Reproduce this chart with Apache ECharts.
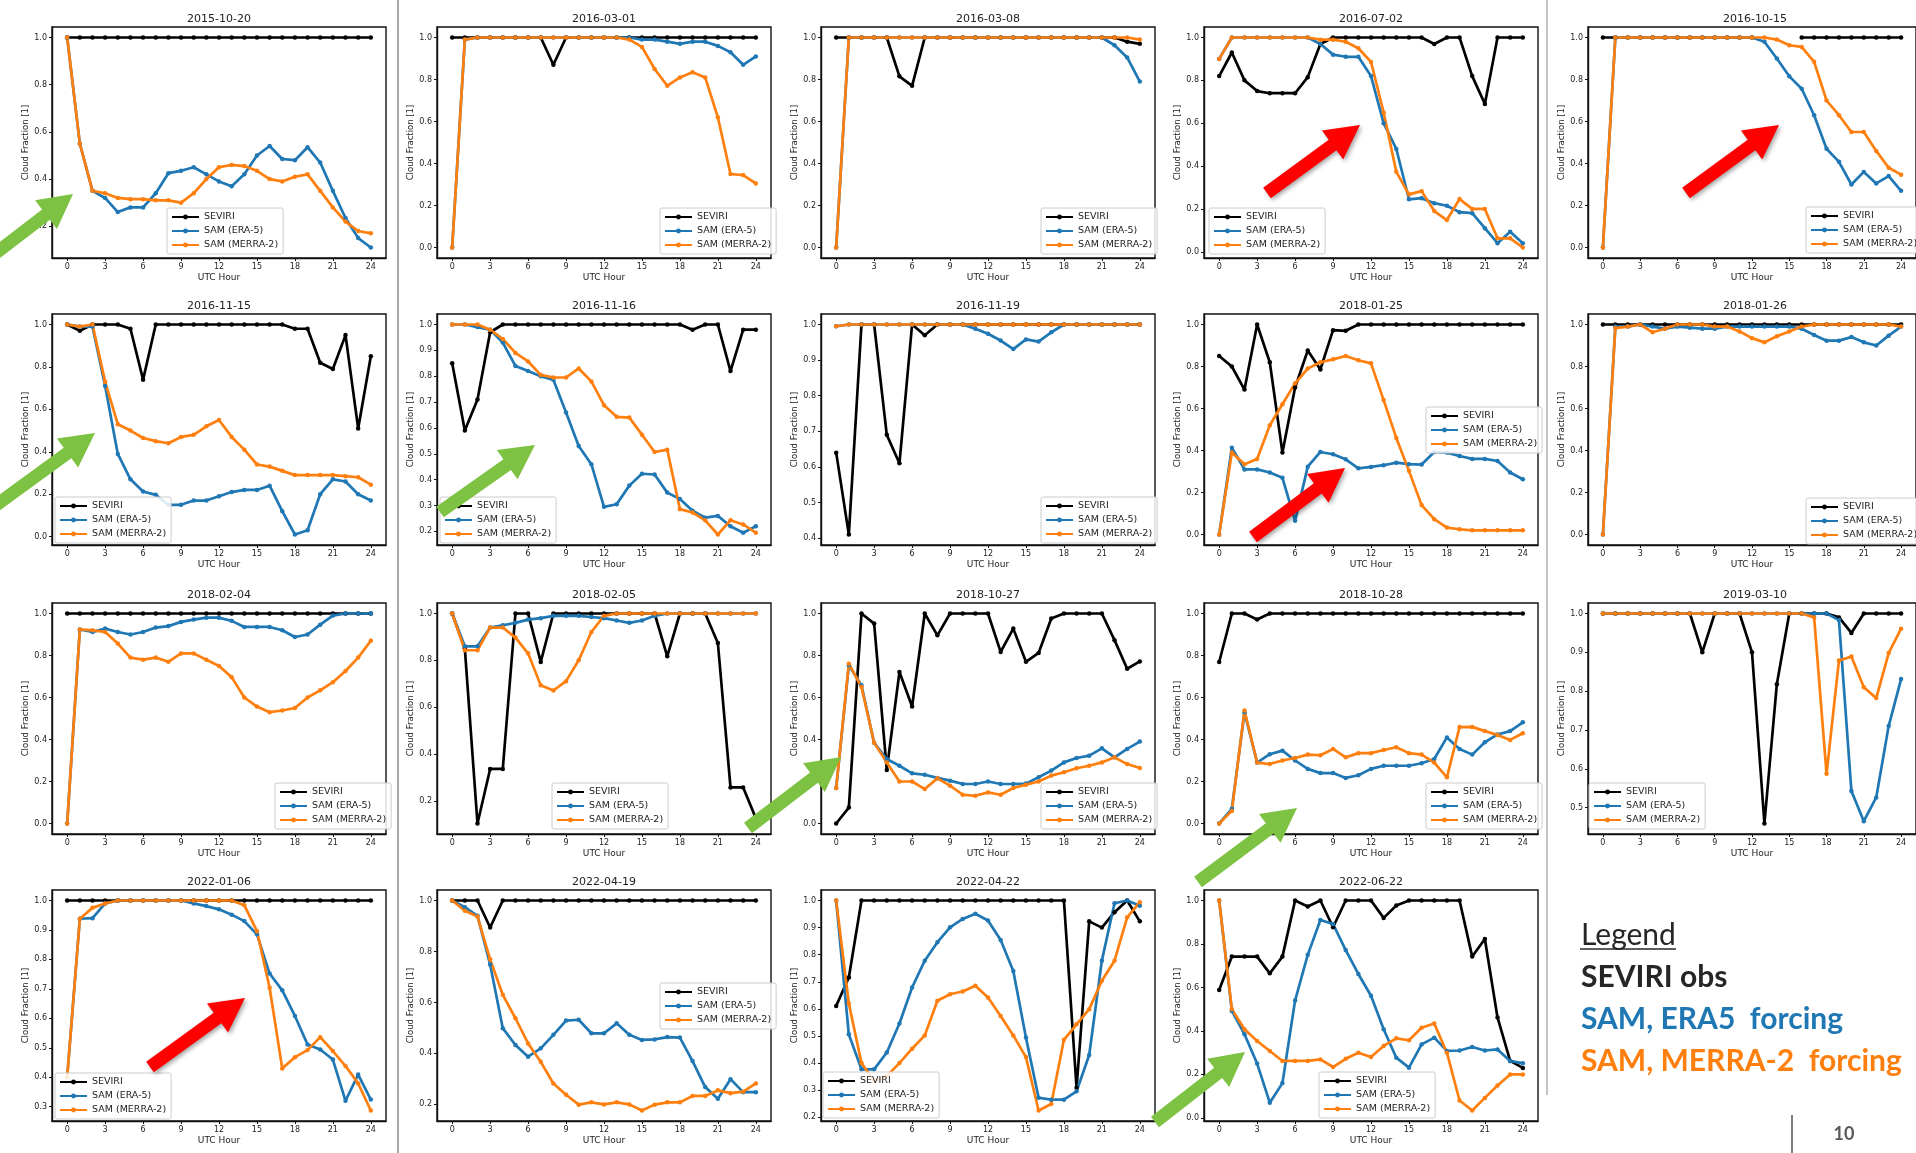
<!DOCTYPE html>
<html>
<head>
  <meta charset="utf-8">
  <title>Cloud fraction cases</title>
  <script src="https://cdn.jsdelivr.net/npm/echarts@6/dist/echarts.min.js"></script>
  <style>
    html, body { margin: 0; padding: 0; background: #fff; }
    #chart { width: 1916px; height: 1153px; }
  </style>
</head>
<body>
<div id="chart"></div>
<script>
// ---- data ----
var hours = [0,1,2,3,4,5,6,7,8,9,10,11,12,13,14,15,16,17,18,19,20,21,22,23,24];
var hourTicks = [0,3,6,9,12,15,18,21,24];
var dates = ['2015-10-20','2016-03-01','2016-03-08','2016-07-02','2016-10-15',
             '2016-11-15','2016-11-16','2016-11-19','2018-01-25','2018-01-26',
             '2018-02-04','2018-02-05','2018-10-27','2018-10-28','2019-03-10',
             '2022-01-06','2022-04-19','2022-04-22','2022-06-22'];
var seriesNames = ['SEVIRI','SAM (ERA-5)','SAM (MERRA-2)'];

var ticksFifth = [0.0,0.2,0.4,0.6,0.8,1.0];
var ticksFifthFrom2 = [0.2,0.4,0.6,0.8,1.0];
var ticksTenthFrom2 = [0.2,0.3,0.4,0.5,0.6,0.7,0.8,0.9,1.0];
var ticksTenthFrom3 = [0.3,0.4,0.5,0.6,0.7,0.8,0.9,1.0];
var ticksTenthFrom4 = [0.4,0.5,0.6,0.7,0.8,0.9,1.0];
var ticksTenthFrom5 = [0.5,0.6,0.7,0.8,0.9,1.0];

var ones = [1,1,1,1,1,1,1,1,1,1,1,1,1,1,1,1,1,1,1,1,1,1,1,1,1];

// 2015-10-20
var sev01 = ones;
var era01 = [1.0,0.55,0.35,0.32,0.26,0.28,0.28,0.34,0.425,0.435,0.45,0.42,0.39,0.37,0.42,0.50,0.54,0.485,0.48,0.535,0.47,0.35,0.235,0.15,0.11];
var mer01 = [1.0,0.55,0.35,0.34,0.32,0.315,0.315,0.31,0.31,0.30,0.34,0.40,0.45,0.46,0.455,0.435,0.40,0.39,0.41,0.42,0.35,0.28,0.22,0.18,0.17];
// 2016-03-01
var sev02 = [1,1,1,1,1,1,1,1,0.87,1,1,1,1,1,1,1,1,1,1,1,1,1,1,1,1];
var era02 = [0.0,0.99,1,1,1,1,1,1,1,1,1,1,1,1,1,0.99,0.99,0.98,0.97,0.98,0.98,0.96,0.93,0.87,0.91];
var mer02 = [0.0,0.99,1,1,1,1,1,1,1,1,1,1,1,1,0.99,0.955,0.85,0.77,0.81,0.835,0.81,0.62,0.35,0.345,0.305];
// 2016-03-08
var sev03 = [1,1,1,1,1,0.815,0.77,1,1,1,1,1,1,1,1,1,1,1,1,1,1,1,1,0.98,0.97];
var era03 = [0,1,1,1,1,1,1,1,1,1,1,1,1,1,1,1,1,1,1,1,1,1,0.963,0.905,0.79];
var mer03 = [0,1,1,1,1,1,1,1,1,1,1,1,1,1,1,1,1,1,1,1,1,1,1,1,0.99];
// 2016-07-02
var sev04 = [0.82,0.93,0.80,0.75,0.74,0.74,0.74,0.815,0.97,1,1,1,1,1,1,1,1,0.97,1,1,0.82,0.69,1,1,1];
var era04 = [0.9,1,1,1,1,1,1,1,0.97,0.92,0.91,0.91,0.82,0.60,0.48,0.245,0.25,0.227,0.215,0.185,0.18,0.11,0.04,0.094,0.04];
var mer04 = [0.9,1,1,1,1,1,1,1,0.99,0.99,0.98,0.95,0.886,0.65,0.373,0.268,0.283,0.19,0.148,0.246,0.20,0.20,0.063,0.063,0.02];
// 2016-10-15
var sev05 = [1,1,1,1,1,1,1,1,1,1,1,1,1,null,null,null,1,1,1,1,1,1,1,1,1];
var era05 = [0,1,1,1,1,1,1,1,1,1,1,1,1,0.98,0.9,0.815,0.756,0.63,0.47,0.408,0.30,0.36,0.305,0.34,0.27];
var mer05 = [0,1,1,1,1,1,1,1,1,1,1,1,1,1,0.99,0.963,0.955,0.884,0.70,0.63,0.55,0.55,0.46,0.38,0.347];
// 2016-11-15
var sev06 = [1,0.97,1,1,1,0.98,0.74,1,1,1,1,1,1,1,1,1,1,1,0.98,0.98,0.82,0.79,0.95,0.51,0.85];
var era06 = [1,0.99,0.99,0.71,0.39,0.27,0.213,0.197,0.15,0.15,0.17,0.17,0.19,0.21,0.22,0.22,0.24,0.12,0.01,0.03,0.20,0.27,0.26,0.20,0.17];
var mer06 = [1,0.99,1,0.73,0.53,0.50,0.465,0.45,0.44,0.47,0.48,0.52,0.55,0.47,0.41,0.34,0.33,0.31,0.29,0.29,0.29,0.29,0.285,0.28,0.245];
// 2016-11-16
var sev07 = [0.85,0.59,0.71,0.97,1,1,1,1,1,1,1,1,1,1,1,1,1,1,1,0.98,1,1,0.82,0.98,0.98];
var era07 = [1,1,0.99,0.98,0.93,0.84,0.82,0.80,0.786,0.66,0.53,0.46,0.295,0.305,0.377,0.423,0.42,0.35,0.325,0.28,0.253,0.26,0.22,0.195,0.22];
var mer07 = [1,1,1,0.98,0.944,0.89,0.857,0.805,0.795,0.795,0.83,0.78,0.688,0.643,0.64,0.574,0.507,0.516,0.286,0.273,0.243,0.188,0.243,0.227,0.195];
// 2016-11-19
var sev08 = [0.64,0.41,1,1,0.69,0.61,1,0.97,1,1,1,1,1,1,1,1,1,1,1,1,1,1,1,1,1];
var era08 = [0.995,1,1,1,1,1,1,1,1,1,1,0.988,0.974,0.955,0.931,0.958,0.952,0.978,1,1,1,1,1,1,1];
var mer08 = [0.995,1,1,1,1,1,1,1,1,1,1,1,1,1,1,1,1,1,1,1,1,1,1,1,1];
// 2018-01-25
var sev09 = [0.85,0.80,0.69,1.0,0.82,0.39,0.70,0.876,0.786,0.973,0.97,1,1,1,1,1,1,1,1,1,1,1,1,1,1];
var era09 = [0,0.413,0.31,0.31,0.295,0.27,0.065,0.323,0.393,0.382,0.358,0.315,0.322,0.33,0.342,0.335,0.333,0.393,0.39,0.374,0.36,0.36,0.35,0.295,0.263];
var mer09 = [0,0.39,0.334,0.36,0.52,0.62,0.72,0.79,0.82,0.834,0.85,0.83,0.815,0.64,0.46,0.303,0.14,0.073,0.033,0.025,0.02,0.02,0.02,0.02,0.02];
// 2018-01-26
var sev10 = ones;
var era10 = [0,0.99,0.99,1,0.99,0.98,0.99,0.985,0.98,0.98,0.99,0.99,0.99,0.99,0.99,0.99,0.98,0.95,0.923,0.923,0.94,0.915,0.90,0.947,0.99];
var mer10 = [0,0.983,0.99,1,0.963,0.98,1,1,1,0.99,0.99,0.967,0.935,0.915,0.944,0.967,0.99,1,1,1,1,1,1,1,0.99];
// 2018-02-04
var sev11 = ones;
var era11 = [0,0.924,0.912,0.928,0.912,0.90,0.912,0.933,0.94,0.96,0.971,0.98,0.98,0.965,0.936,0.936,0.936,0.92,0.888,0.90,0.947,0.99,1,1,1];
var mer11 = [0,0.924,0.92,0.912,0.857,0.79,0.78,0.79,0.77,0.81,0.81,0.78,0.75,0.697,0.60,0.557,0.53,0.538,0.55,0.60,0.634,0.673,0.726,0.79,0.87];
// 2018-02-05
var sev12 = [1,0.85,0.103,0.336,0.336,1,1,0.793,1,1,1,1,1,1,1,1,1,0.817,1,1,1,0.874,0.257,0.257,0.126];
var era12 = [1,0.86,0.86,0.94,0.95,0.96,0.974,0.98,0.99,0.99,0.99,0.985,0.98,0.97,0.96,0.97,0.99,1,1,1,1,1,1,1,1];
var mer12 = [1,0.843,0.843,0.94,0.94,0.897,0.83,0.693,0.671,0.711,0.80,0.921,0.99,1,1,1,1,1,1,1,1,1,1,1,1];
// 2018-10-27
var sev13 = [0,0.076,1,0.952,0.255,0.721,0.557,1,0.896,1,1,1,1,0.817,0.928,0.77,0.812,0.976,1,1,1,1,0.873,0.737,0.772];
var era13 = [0.169,0.753,0.658,0.384,0.307,0.275,0.239,0.232,0.217,0.204,0.188,0.188,0.20,0.188,0.188,0.19,0.22,0.252,0.291,0.312,0.323,0.358,0.315,0.355,0.39];
var mer13 = [0.169,0.761,0.65,0.384,0.291,0.20,0.20,0.164,0.215,0.18,0.137,0.132,0.148,0.137,0.169,0.185,0.20,0.228,0.244,0.263,0.275,0.291,0.315,0.283,0.264];
// 2018-10-28
var sev14 = [0.769,1,1,0.971,1,1,1,1,1,1,1,1,1,1,1,1,1,1,1,1,1,1,1,1,1];
var era14 = [0,0.07,0.53,0.29,0.33,0.347,0.30,0.26,0.24,0.24,0.217,0.23,0.26,0.275,0.275,0.275,0.287,0.307,0.41,0.355,0.328,0.387,0.424,0.44,0.482];
var mer14 = [0,0.06,0.538,0.29,0.283,0.30,0.312,0.328,0.325,0.355,0.315,0.335,0.335,0.35,0.363,0.335,0.328,0.29,0.22,0.459,0.46,0.44,0.422,0.398,0.43];
// 2019-03-10
var sev15 = [1,1,1,1,1,1,1,1,0.9,1,1,1,0.9,0.459,0.818,1,1,1,1,0.99,0.95,1,1,1,1];
var era15 = [1,1,1,1,1,1,1,1,1,1,1,1,1,1,1,1,1,1,1,0.983,0.543,0.465,0.526,0.71,0.831];
var mer15 = [1,1,1,1,1,1,1,1,1,1,1,1,1,1,1,1,1,0.99,0.587,0.879,0.889,0.81,0.782,0.898,0.961];
// 2022-01-06
var sev16 = ones;
var era16 = [0.40,0.938,0.94,0.99,1,1,1,1,1,1,0.99,0.981,0.97,0.952,0.93,0.885,0.752,0.695,0.608,0.511,0.494,0.46,0.32,0.409,0.324];
var mer16 = [0.40,0.938,0.975,0.99,1,1,1,1,1,1,1,1,1,1,0.984,0.896,0.704,0.43,0.468,0.492,0.536,0.489,0.438,0.379,0.287];
// 2022-04-19
var sev17 = [1,1,1,0.894,1,1,1,1,1,1,1,1,1,1,1,1,1,1,1,1,1,1,1,1,1];
var era17 = [1,0.974,0.94,0.749,0.499,0.433,0.387,0.42,0.473,0.529,0.532,0.479,0.479,0.518,0.473,0.453,0.455,0.464,0.462,0.37,0.268,0.222,0.299,0.248,0.248];
var mer17 = [1,0.96,0.937,0.769,0.63,0.538,0.439,0.367,0.282,0.238,0.199,0.208,0.20,0.208,0.20,0.176,0.199,0.208,0.208,0.233,0.233,0.255,0.244,0.25,0.282];
// 2022-04-22
var sev18 = [0.611,0.716,1,1,1,1,1,1,1,1,1,1,1,1,1,1,1,1,1,0.309,0.923,0.90,0.957,1,0.923];
var era18 = [1,0.506,0.377,0.377,0.439,0.546,0.679,0.778,0.846,0.901,0.932,0.951,0.926,0.854,0.74,0.494,0.272,0.265,0.265,0.296,0.43,0.778,0.99,1,0.981];
var mer18 = [1,0.62,0.40,0.333,0.352,0.40,0.453,0.502,0.63,0.654,0.664,0.685,0.642,0.574,0.502,0.422,0.225,0.249,0.486,0.543,0.599,0.704,0.778,0.938,0.994];
// 2022-06-22
var sev19 = [0.588,0.742,0.742,0.742,0.665,0.742,1,0.972,1,0.877,1,1,1,0.92,0.977,1,1,1,1,1,0.742,0.823,0.462,0.262,0.23];
var era19 = [1,0.492,0.385,0.25,0.07,0.16,0.54,0.75,0.91,0.892,0.772,0.662,0.562,0.408,0.277,0.231,0.338,0.369,0.308,0.31,0.326,0.31,0.315,0.262,0.251];
var mer19 = [1,0.50,0.408,0.354,0.308,0.262,0.262,0.262,0.269,0.234,0.272,0.30,0.28,0.331,0.366,0.357,0.415,0.434,0.30,0.08,0.034,0.092,0.149,0.20,0.20];

// ---- layout ----
var colX = [52, 437, 821, 1204, 1588];
var rowY = [27, 314, 603, 890];
var boxW = 334, boxH = 231;
var panelCol = [0,1,2,3,4, 0,1,2,3,4, 0,1,2,3,4, 0,1,2,3];
var panelRow = [0,0,0,0,0, 1,1,1,1,1, 2,2,2,2,2, 3,3,3,3];
var legendPos = [[167,208],[660,208],[1041,208],[1209,208],[1806,207],
                 [55,497],[440,497],[1041,497],[1426,407],[1806,498],
                 [275,783],[552,783],[1041,783],[1426,783],[1589,783],
                 [55,1073],[660,983],[823,1072],[1319,1072]];
var colors = ['#000000', '#1f77b4', '#ff7f0e'];

var panels = [
  [sev01, era01, mer01, ticksFifthFrom2],
  [sev02, era02, mer02, ticksFifth],
  [sev03, era03, mer03, ticksFifth],
  [sev04, era04, mer04, ticksFifth],
  [sev05, era05, mer05, ticksFifth],
  [sev06, era06, mer06, ticksFifth],
  [sev07, era07, mer07, ticksTenthFrom2],
  [sev08, era08, mer08, ticksTenthFrom4],
  [sev09, era09, mer09, ticksFifth],
  [sev10, era10, mer10, ticksFifth],
  [sev11, era11, mer11, ticksFifth],
  [sev12, era12, mer12, ticksFifthFrom2],
  [sev13, era13, mer13, ticksFifth],
  [sev14, era14, mer14, ticksFifth],
  [sev15, era15, mer15, ticksTenthFrom5],
  [sev16, era16, mer16, ticksTenthFrom3],
  [sev17, era17, mer17, ticksFifthFrom2],
  [sev18, era18, mer18, ticksTenthFrom2],
  [sev19, era19, mer19, ticksFifth]
];

var txt = '#222';
var option = {
  backgroundColor: '#fff',
  animation: false,
  textStyle: { fontFamily: 'DejaVu Sans' },
  grid: [], xAxis: [], yAxis: [], series: [], legend: [], graphic: []
};

panels.forEach(function (p, i) {
  var left = colX[panelCol[i]], top = rowY[panelRow[i]];
  option.grid.push({
    left: left, top: top, width: boxW, height: boxH,
    show: true, borderColor: '#111', borderWidth: 1.4, backgroundColor: '#fff'
  });

  // matplotlib style limits: data range plus 5% margins
  var all = p[0].concat(p[1], p[2]).filter(function (v) { return v != null; });
  var lo = Math.min.apply(null, all), hi = Math.max.apply(null, all);
  var pad = (hi - lo) * 0.05;

  option.xAxis.push({
    gridIndex: i, type: 'value', min: -1.2, max: 25.2,
    axisLine: { show: true, onZero: false, lineStyle: { color: '#111', width: 1.4 } },
    axisTick: { show: true, customValues: hourTicks, length: 3, lineStyle: { color: '#111' } },
    axisLabel: { customValues: hourTicks, fontSize: 8, color: txt, margin: 5 },
    splitLine: { show: false },
    name: 'UTC Hour', nameLocation: 'middle', nameGap: 15,
    nameTextStyle: { fontSize: 9, color: txt }
  });
  option.yAxis.push({
    gridIndex: i, type: 'value', min: lo - pad, max: hi + pad,
    axisLine: { show: true, onZero: false, lineStyle: { color: '#111', width: 1.4 } },
    axisTick: { show: true, customValues: p[3], length: 3, lineStyle: { color: '#111' } },
    axisLabel: { customValues: p[3], fontSize: 8, color: txt, margin: 5,
                 formatter: function (v) { return v.toFixed(1); } },
    splitLine: { show: false },
    name: 'Cloud Fraction [1]', nameLocation: 'middle', nameGap: 22,
    nameTextStyle: { fontSize: 8.5, color: txt }
  });

  for (var k = 0; k < 3; k++) {
    option.series.push({
      type: 'line', name: seriesNames[k], xAxisIndex: i, yAxisIndex: i,
      data: hours.map(function (h, j) { var v = p[k][j]; return [h, v == null ? '-' : v]; }),
      symbol: 'circle', symbolSize: 4.5, showSymbol: true, connectNulls: false,
      itemStyle: { color: colors[k] },
      lineStyle: { color: colors[k], width: 2.7 },
      emphasis: { disabled: true }, silent: true
    });
  }

  option.legend.push({
    data: seriesNames, orient: 'vertical',
    left: legendPos[i][0], top: legendPos[i][1],
    itemWidth: 27, itemHeight: 6, itemGap: 4, padding: [4, 5, 4, 4],
    textStyle: { fontSize: 9.5, color: txt, fontFamily: 'DejaVu Sans' },
    borderColor: '#ccc', borderWidth: 1, borderRadius: 2,
    backgroundColor: 'rgba(255,255,255,0.85)', selectedMode: false
  });

  option.graphic.push({
    type: 'text', x: left + boxW / 2, y: top - 8, z: 50,
    style: { text: dates[i], align: 'center', verticalAlign: 'middle',
             fontSize: 11, fontFamily: 'DejaVu Sans', fill: txt }
  });
});

// screenshot separators
option.graphic.push({ type: 'line', shape: { x1: 398, y1: 0, x2: 398, y2: 1153 }, style: { stroke: '#8a8a8a', lineWidth: 1.5 }, z: 40 });
option.graphic.push({ type: 'line', shape: { x1: 1547, y1: 0, x2: 1547, y2: 1095 }, style: { stroke: '#b0b0b0', lineWidth: 1.5 }, z: 40 });

// annotation arrows
function arrowPoints(x1, y1, x2, y2) {
  var shaft = 13, headW = 36, headL = 34;
  var dx = x2 - x1, dy = y2 - y1, len = Math.sqrt(dx * dx + dy * dy);
  var ux = dx / len, uy = dy / len, nx = -uy, ny = ux;
  var bx = x2 - ux * headL, by = y2 - uy * headL;
  return [
    [x1 + nx * shaft / 2, y1 + ny * shaft / 2],
    [bx + nx * shaft / 2, by + ny * shaft / 2],
    [bx + nx * headW / 2, by + ny * headW / 2],
    [x2, y2],
    [bx - nx * headW / 2, by - ny * headW / 2],
    [bx - nx * shaft / 2, by - ny * shaft / 2],
    [x1 - nx * shaft / 2, y1 - ny * shaft / 2]
  ];
}
var greenArrows = [[-8,256,73,194],[-8,508,95,433],[440,512,535,445],[748,828,841,757],[1198,882,1297,808],[1155,1122,1245,1052]];
var redArrows = [[1267,193,1360,125],[1686,193,1779,125],[1253,537,1345,468],[150,1067,245,998]];
greenArrows.forEach(function (a) {
  option.graphic.push({ type: 'polygon', z: 100, shape: { points: arrowPoints(a[0], a[1], a[2], a[3]) },
    style: { fill: '#7dc242' } });
});
redArrows.forEach(function (a) {
  option.graphic.push({ type: 'polygon', z: 100, shape: { points: arrowPoints(a[0], a[1], a[2], a[3]) },
    style: { fill: '#ff0000', shadowBlur: 4, shadowOffsetX: 2, shadowOffsetY: 2, shadowColor: 'rgba(0,0,0,0.35)' } });
});

// slide legend text
var legendLines = [
  { text: 'Legend', y: 935, color: '#262626', weight: 'normal' },
  { text: 'SEVIRI obs', y: 977, color: '#262626', weight: 'bold' },
  { text: 'SAM, ERA5  forcing', y: 1019, color: '#1f77b4', weight: 'bold' },
  { text: 'SAM, MERRA-2  forcing', y: 1061, color: '#ff7f0e', weight: 'bold' }
];
legendLines.forEach(function (l) {
  option.graphic.push({ type: 'text', x: 1581, y: l.y, z: 60,
    style: { text: l.text, align: 'left', verticalAlign: 'middle', fontSize: 30,
             fontWeight: l.weight, fontFamily: 'Lato', fill: l.color } });
});
option.graphic.push({ type: 'line', z: 60, shape: { x1: 1580, y1: 949, x2: 1676, y2: 949 }, style: { stroke: '#262626', lineWidth: 1.5 } });
option.graphic.push({ type: 'line', z: 60, shape: { x1: 1792, y1: 1115, x2: 1792, y2: 1153 }, style: { stroke: '#7f7f7f', lineWidth: 2 } });
option.graphic.push({ type: 'text', x: 1844, y: 1134, z: 60,
  style: { text: '10', align: 'center', verticalAlign: 'middle', fontSize: 18, fontWeight: 'bold',
           fontFamily: 'Lato', fill: '#595959' } });

var chart = echarts.init(document.getElementById('chart'));
chart.setOption(option);
</script>
</body>
</html>
